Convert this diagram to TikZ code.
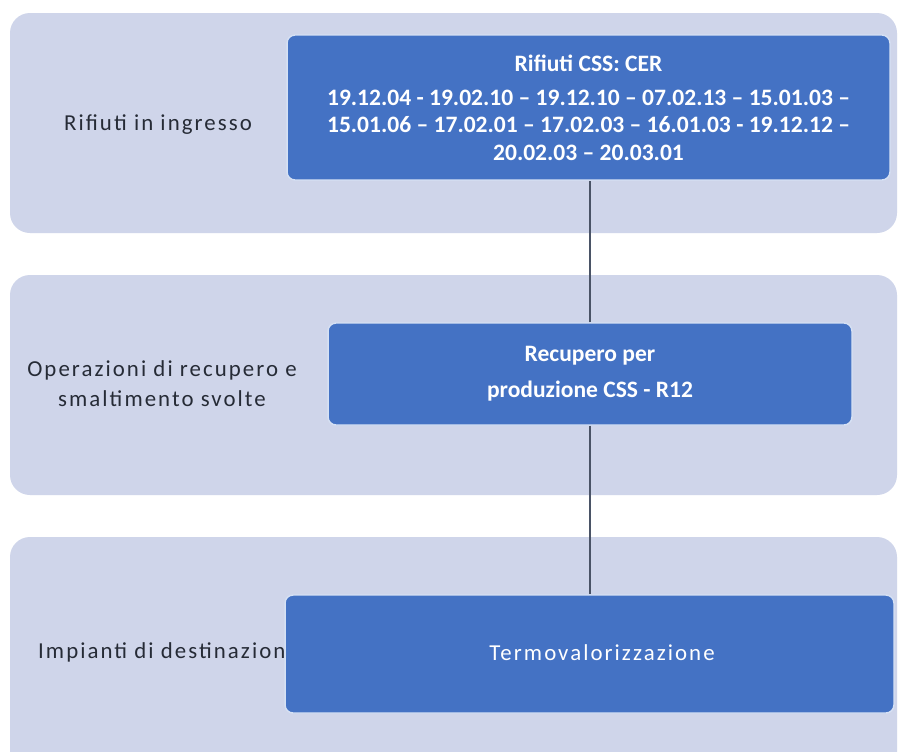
\documentclass[tikz,border=0pt]{standalone}
\usepackage{fontspec}
\setmainfont{Carlito}
\newfontfamily\spacedfont[LetterSpace=9]{Carlito}
\usepackage{tikz}
\usepackage{xcolor}
\definecolor{bandfill}{HTML}{CFD5EA}
\definecolor{boxfill}{HTML}{4472C4}
\definecolor{boxedge}{HTML}{D6E1F4}
\definecolor{labeltext}{HTML}{262B36}
\definecolor{linkline}{HTML}{4A5366}

\begin{document}
\begin{tikzpicture}[x=0.02cm, y=-0.02cm,
        band/.style = {fill=bandfill, rounded corners=0.4cm},
        lbl/.style = {text=labeltext, font=\spacedfont\fontsize{13}{17}\selectfont, align=center},
        cbox/.style = {fill=boxfill, draw=boxedge, line width=0.8pt, rounded corners=0.16cm,
            text=white, align=center, font=\fontsize{13.4}{15.5}\selectfont\bfseries},
        link/.style = {draw=linkline, line width=0.7pt}]
            \useasboundingbox (0,0) rectangle (898,751);
            \fill[white] (0,0) rectangle (898,751);
            \fill[band] (10,13) rectangle (897,233);
            \fill[band] (10,275) rectangle (897,495);
            \fill[band] (10,537) rectangle (897,780);
            \node[lbl] (in) at (158,125) {Rifiuti in ingresso};
            \node[lbl] (op) at (162,384) {Operazioni di recupero e\\smaltimento svolte};
            \node[lbl, anchor=west] (dest) at (32,652) {Impianti di destinazione};
            \node[cbox, minimum width=12.06cm, minimum height=2.9cm] (cer) at (588.5,107.5)
                {Rifiuti CSS: CER\\[4pt]
                 19.12.04 - 19.02.10 -- 19.12.10 -- 07.02.13 -- 15.01.03 --\\
                 15.01.06 -- 17.02.01 -- 17.02.03 -- 16.01.03 - 19.12.12 --\\
                 20.02.03 -- 20.03.01};
            \node[cbox, minimum width=10.48cm, minimum height=2.04cm] (rec) at (590,374)
                {Recupero per\\[5pt] produzione CSS - R12};
            \node[cbox, minimum width=12.18cm, minimum height=2.36cm] (termo) at (589.5,654) {};
            \node[text=white, font=\spacedfont\fontsize{13}{16}\selectfont] (termotxt) at (602,653) {Termovalorizzazione};
            \draw[link] (rec.north -| 590,0) -- (cer.south -| 590,0);
            \draw[link] (rec.south) -- (termo.north -| rec.south);
        \end{tikzpicture}
\end{document}
